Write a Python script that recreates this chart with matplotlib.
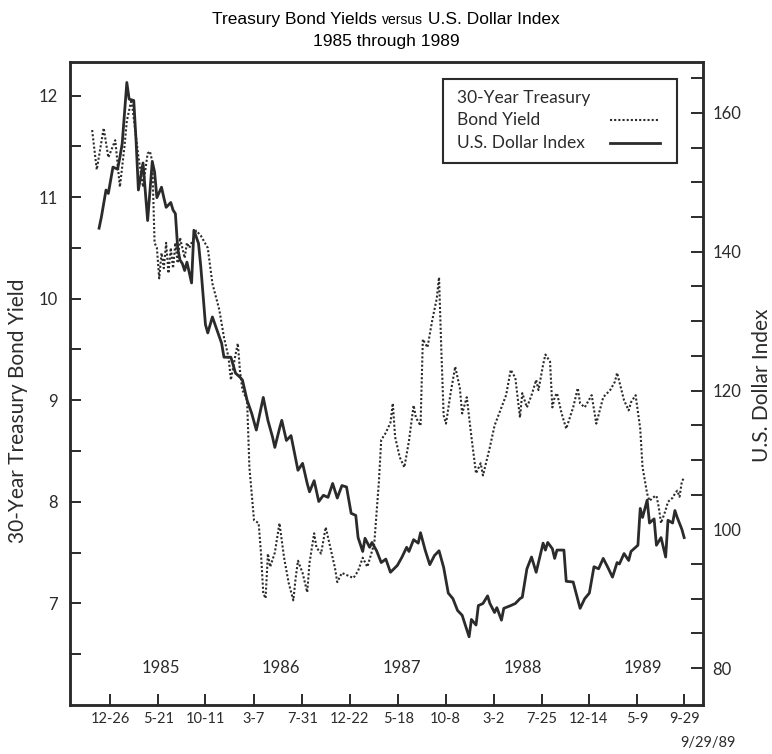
import numpy as np
import matplotlib
matplotlib.use("Agg")
import matplotlib.pyplot as plt
from matplotlib import font_manager
from matplotlib.patches import Rectangle

# weekly series, week 0 = 1984-11-02
start = np.datetime64("1984-11-02")

yield_weeks = [0, 2, 5, 7, 10, 12, 14, 15, 17, 20, 22, 24, 25, 26, 27, 28, 29, 30, 31, 32,
               33, 34, 35, 36, 37, 38, 40, 41, 42, 44, 45, 47, 50, 52, 55, 57, 59, 60, 62, 63,
               64, 65, 67, 68, 70, 72, 73, 74, 75, 76, 77, 79, 81, 83, 85, 87, 88, 89, 91, 93,
               94, 96, 97, 99, 101, 103, 105, 106, 108, 110, 113, 115, 117, 119, 122, 124, 125,
               127, 129, 130, 131, 133, 135, 137, 139, 140, 142, 143, 145, 147, 149, 150, 151,
               152, 153, 155, 157, 159, 160, 162, 164, 166, 168, 169, 172, 174, 176, 179, 181,
               183, 185, 186, 188, 190, 192, 193, 195, 196, 198, 199, 200, 201, 203, 205, 208,
               210, 211, 213, 214, 216, 218, 221, 224, 226, 227, 230, 232, 233, 235, 237, 238,
               240, 241, 243, 244, 245, 246, 248, 249, 251, 252, 253, 254, 255, 256]
yield_vals = [11.66, 11.27, 11.68, 11.39, 11.56, 11.10, 11.50, 11.75, 11.96, 11.40, 11.10, 11.43,
              11.45, 11.35, 10.55, 10.50, 10.20, 10.45, 10.30, 10.55, 10.25, 10.50, 10.30, 10.55,
              10.35, 10.60, 10.40, 10.55, 10.50, 10.60, 10.67, 10.62, 10.50, 10.15, 9.89, 9.62,
              9.42, 9.20, 9.45, 9.56, 9.27, 9.10, 9.00, 8.34, 7.82, 7.79, 7.50, 7.10, 7.05, 7.49,
              7.36, 7.50, 7.79, 7.45, 7.20, 7.03, 7.25, 7.42, 7.30, 7.11, 7.40, 7.69, 7.55, 7.49,
              7.75, 7.55, 7.35, 7.21, 7.30, 7.28, 7.25, 7.32, 7.45, 7.36, 7.59, 8.20, 8.61, 8.68,
              8.78, 8.97, 8.64, 8.44, 8.34, 8.60, 8.95, 8.83, 8.75, 9.60, 9.52, 9.78, 10.00, 10.21,
              9.49, 8.85, 8.77, 9.07, 9.33, 9.12, 8.87, 9.03, 8.64, 8.28, 8.38, 8.26, 8.54, 8.75,
              8.87, 9.05, 9.30, 9.22, 8.83, 9.07, 8.93, 9.05, 9.20, 9.10, 9.35, 9.45, 9.38, 8.93,
              9.03, 9.07, 8.87, 8.72, 8.93, 9.12, 8.97, 8.93, 8.97, 9.05, 8.77, 9.03, 9.10, 9.18,
              9.27, 9.00, 8.90, 8.98, 9.05, 8.72, 8.34, 8.08, 8.01, 8.05, 8.06, 7.95, 7.79, 7.92,
              8.00, 8.04, 8.08, 8.11, 8.05, 8.20, 8.24]

dollar_weeks = [3, 4, 6, 7, 9, 11, 12, 13, 15, 16, 18, 19, 20, 22, 24, 26, 27, 28, 30, 31, 32,
                34, 35, 36, 37, 38, 39, 40, 41, 43, 44, 46, 47, 49, 50, 52, 54, 56, 57, 60, 62,
                64, 65, 67, 69, 71, 74, 76, 78, 79, 81, 82, 84, 86, 89, 91, 93, 94, 96, 98, 100,
                102, 104, 106, 108, 110, 112, 114, 115, 117, 118, 120, 121, 123, 125, 127, 129,
                132, 134, 136, 137, 139, 141, 142, 144, 146, 148, 150, 152, 154, 156, 158, 160,
                163, 164, 166, 167, 169, 171, 172, 174, 175, 177, 178, 181, 183, 185, 186, 188,
                190, 192, 195, 196, 197, 199, 200, 201, 204, 205, 208, 211, 213, 215, 217, 219,
                221, 223, 225, 227, 228, 230, 232, 233, 236, 237, 238, 240, 241, 243, 244, 246,
                248, 249, 251, 252, 253, 255, 256]
dollar_vals = [143.4, 145.0, 148.9, 148.4, 152.2, 151.9, 153.6, 155.6, 164.4, 162.0, 161.8, 156.0,
               148.9, 152.8, 144.5, 153.0, 151.5, 147.8, 149.3, 147.8, 146.4, 147.1, 146.0, 145.5,
               140.5, 138.8, 138.3, 137.3, 138.5, 135.5, 143.1, 141.2, 137.8, 129.5, 128.3, 130.6,
               128.7, 126.8, 124.8, 124.8, 122.5, 121.9, 121.5, 118.6, 116.7, 114.3, 119.0, 115.7,
               113.3, 111.8, 114.5, 115.7, 112.8, 113.5, 108.5, 109.5, 106.6, 105.4, 107.0, 104.0,
               104.9, 104.6, 106.6, 104.5, 106.3, 106.1, 102.3, 102.0, 98.8, 96.8, 98.7, 97.4,
               98.1, 96.9, 95.2, 95.7, 93.8, 94.8, 96.0, 97.4, 96.8, 98.5, 98.0, 99.5, 97.0, 94.9,
               96.2, 96.9, 94.5, 90.8, 90.0, 88.3, 87.6, 84.5, 87.0, 86.2, 89.0, 89.3, 90.4, 89.3,
               88.0, 88.7, 86.9, 88.6, 89.0, 89.3, 90.0, 90.2, 94.3, 96.0, 93.8, 98.0, 97.0, 98.1,
               97.2, 95.8, 97.0, 97.0, 92.5, 92.4, 88.6, 90.0, 90.8, 94.6, 94.3, 95.8, 94.5, 93.1,
               95.2, 95.0, 96.5, 95.5, 96.8, 97.7, 103.0, 101.7, 104.2, 100.9, 101.5, 97.7, 98.8,
               96.0, 101.3, 100.9, 102.7, 101.7, 100.0, 98.8]

tick_dates = ["1984-12-26", "1985-05-21", "1985-10-11", "1986-03-07", "1986-07-31",
              "1986-12-22", "1987-05-18", "1987-10-08", "1988-03-02", "1988-07-25",
              "1988-12-14", "1989-05-09", "1989-09-29"]
tick_labels = ["12-26", "5-21", "10-11", "3-7", "7-31", "12-22", "5-18", "10-8", "3-2",
               "7-25", "12-14", "5-9", "9-29"]
years = ["1985", "1986", "1987", "1988", "1989"]


def week_of(d):
    return (np.datetime64(d) - start) / np.timedelta64(7, "D")


ink = "#2b2b2b"
names = {f.name for f in font_manager.fontManager.ttflist}
title_font = "Liberation Sans Narrow" if "Liberation Sans Narrow" in names else "Liberation Sans"
plt.rcParams["font.family"] = ["Lato", "DejaVu Sans"]

fig = plt.figure(figsize=(7.72, 7.54), dpi=100)
ax = fig.add_axes([70 / 772, 49 / 754, 633 / 772, 643 / 754])
ax2 = ax.twinx()

# bond yield (left) dotted, dollar index (right) solid
ax.plot(yield_weeks, yield_vals, color=ink, lw=1.5, ls=(0, (1, 1)))
ax2.plot(dollar_weeks, dollar_vals, color=ink, lw=2.0, solid_joinstyle="round")

ax.set_xlim(week_of("1984-08-27"), week_of("1989-11-25"))
ax.set_ylim(6.0, 12.33)
ax2.set_ylim(74.67, 167.35)

ax.set_xticks([week_of(d) for d in tick_dates])
ax.set_xticklabels(tick_labels, fontsize=10.5)
left_ticks = np.arange(6.5, 12.01, 0.5)
ax.set_yticks(left_ticks)
ax.set_yticklabels([str(int(v)) if v == int(v) else "" for v in left_ticks], fontsize=12)
right_ticks = np.arange(80, 166, 5)
ax2.set_yticks(right_ticks)
ax2.set_yticklabels([str(v) if v % 20 == 0 else "" for v in right_ticks], fontsize=12)

ax.tick_params(axis="x", direction="in", length=8, width=1.4, colors=ink, pad=5)
ax.tick_params(axis="y", direction="in", length=8, width=1.4, colors=ink, pad=9)
ax2.tick_params(axis="y", direction="in", length=9, width=1.4, colors=ink, pad=7)
for a in (ax, ax2):
    for s in a.spines.values():
        s.set_linewidth(1.8)
        s.set_color(ink)

# year labels inside the plot
for y in years:
    ax2.text(week_of(y + "-05-28"), 80, y, ha="center", va="center", fontsize=12, color=ink)

# legend box
ax2.add_patch(Rectangle((0.589, 0.843), 0.37, 0.131, transform=ax2.transAxes,
                        fc="white", ec=ink, lw=1.5, zorder=5))
for yy, txt in [(0.944, "30-Year Treasury"), (0.910, "Bond Yield"), (0.874, "U.S. Dollar Index")]:
    ax2.text(0.611, yy, txt, transform=ax2.transAxes, va="center", fontsize=12.5,
             color=ink, zorder=6)
ax2.plot([0.853, 0.932], [0.910, 0.910], transform=ax2.transAxes, color=ink, lw=1.5,
         ls=(0, (1, 1)), zorder=6)
ax2.plot([0.853, 0.932], [0.874, 0.874], transform=ax2.transAxes, color=ink, lw=2.0, zorder=6)

fig.text(18 / 772, 1 - 411 / 754, "30-Year Treasury Bond Yield", rotation=90,
         ha="center", va="center", fontsize=15, color=ink)
fig.text(762 / 772, 1 - 385 / 754, "U.S. Dollar Index", rotation=90,
         ha="center", va="center", fontsize=15, color=ink)
fig.text(736 / 772, 1 - 743 / 754, "9/29/89", ha="right", va="center", fontsize=10.5, color=ink)

# title, with a smaller "versus"
parts = [("Treasury Bond Yields ", 12.5), ("versus", 10), (" U.S. Dollar Index", 12.5)]
renderer = fig.canvas.get_renderer()
texts = [fig.text(0, 1 - 24 / 754, p, fontsize=s, family=title_font, va="baseline")
         for p, s in parts]
widths = [t.get_window_extent(renderer).width for t in texts]
x = 386 - sum(widths) / 2
for t, w in zip(texts, widths):
    t.set_x(x / 772)
    x += w
fig.text(386 / 772, 1 - 46 / 754, "1985 through 1989", ha="center", va="baseline",
         fontsize=12.5, family=title_font)

fig.savefig("out.png", dpi=100)
